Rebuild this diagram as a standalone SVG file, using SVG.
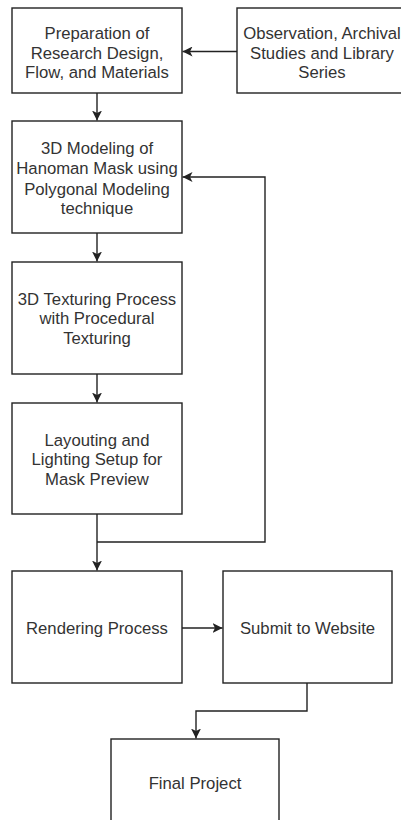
<svg xmlns="http://www.w3.org/2000/svg" width="401" height="820" viewBox="0 0 401 820">
<style>
.box{fill:#fff;stroke:#222;stroke-width:1.4}
.t{font-family:"Liberation Sans",Arial,sans-serif;font-size:16.7px;fill:#333;text-anchor:middle}
.c{fill:none;stroke:#222;stroke-width:1.4}
</style>
<defs>
<marker id="a" viewBox="0 0 10 10" refX="10" refY="5" markerWidth="10" markerHeight="10" markerUnits="userSpaceOnUse" orient="auto">
<path d="M0,0 L10,5 L0,10 L2.5,5 Z" fill="#222"/>
</marker>
</defs>
<rect width="401" height="820" fill="#fff"/>
<g id="connectors">
<path class="c" d="M237,51.5 H182.5" marker-end="url(#a)"/>
<path class="c" d="M97,93 V120.5" marker-end="url(#a)"/>
<path class="c" d="M97,233 V261.5" marker-end="url(#a)"/>
<path class="c" d="M97,374 V402.5" marker-end="url(#a)"/>
<path class="c" d="M97,514 V570.5" marker-end="url(#a)"/>
<path class="c" d="M97,542 H265 V177 H182.5" marker-end="url(#a)"/>
<path class="c" d="M182,628 H222.5" marker-end="url(#a)"/>
<path class="c" d="M307,683 V711 H196 V738.5" marker-end="url(#a)"/>
</g>
<g id="n1">
<rect class="box" x="12" y="8" width="170" height="85"/>
<text class="t" x="97" y="39">Preparation of</text>
<text class="t" x="97" y="59">Research Design,</text>
<text class="t" x="97" y="78">Flow, and Materials</text>
</g>
<g id="n2">
<rect class="box" x="237" y="8" width="170" height="85"/>
<text class="t" x="322" y="39">Observation, Archival</text>
<text class="t" x="322" y="59">Studies and Library</text>
<text class="t" x="322" y="78">Series</text>
</g>
<g id="n3">
<rect class="box" x="12" y="121" width="170" height="112"/>
<text class="t" x="97" y="154">3D Modeling of</text>
<text class="t" x="97" y="174">Hanoman Mask using</text>
<text class="t" x="97" y="195">Polygonal Modeling</text>
<text class="t" x="97" y="214">technique</text>
</g>
<g id="n4">
<rect class="box" x="12" y="262" width="170" height="112"/>
<text class="t" x="97" y="305">3D Texturing Process</text>
<text class="t" x="97" y="324">with Procedural</text>
<text class="t" x="97" y="344">Texturing</text>
</g>
<g id="n5">
<rect class="box" x="12" y="403" width="170" height="111"/>
<text class="t" x="97" y="446">Layouting and</text>
<text class="t" x="97" y="465">Lighting Setup for</text>
<text class="t" x="97" y="485">Mask Preview</text>
</g>
<g id="n6">
<rect class="box" x="12" y="571" width="170" height="112"/>
<text class="t" x="97" y="634">Rendering Process</text>
</g>
<g id="n7">
<rect class="box" x="223" y="571" width="169" height="112"/>
<text class="t" x="307.5" y="634">Submit to Website</text>
</g>
<g id="n8">
<rect class="box" x="111" y="739" width="168" height="112"/>
<text class="t" x="195" y="789">Final Project</text>
</g>
</svg>
